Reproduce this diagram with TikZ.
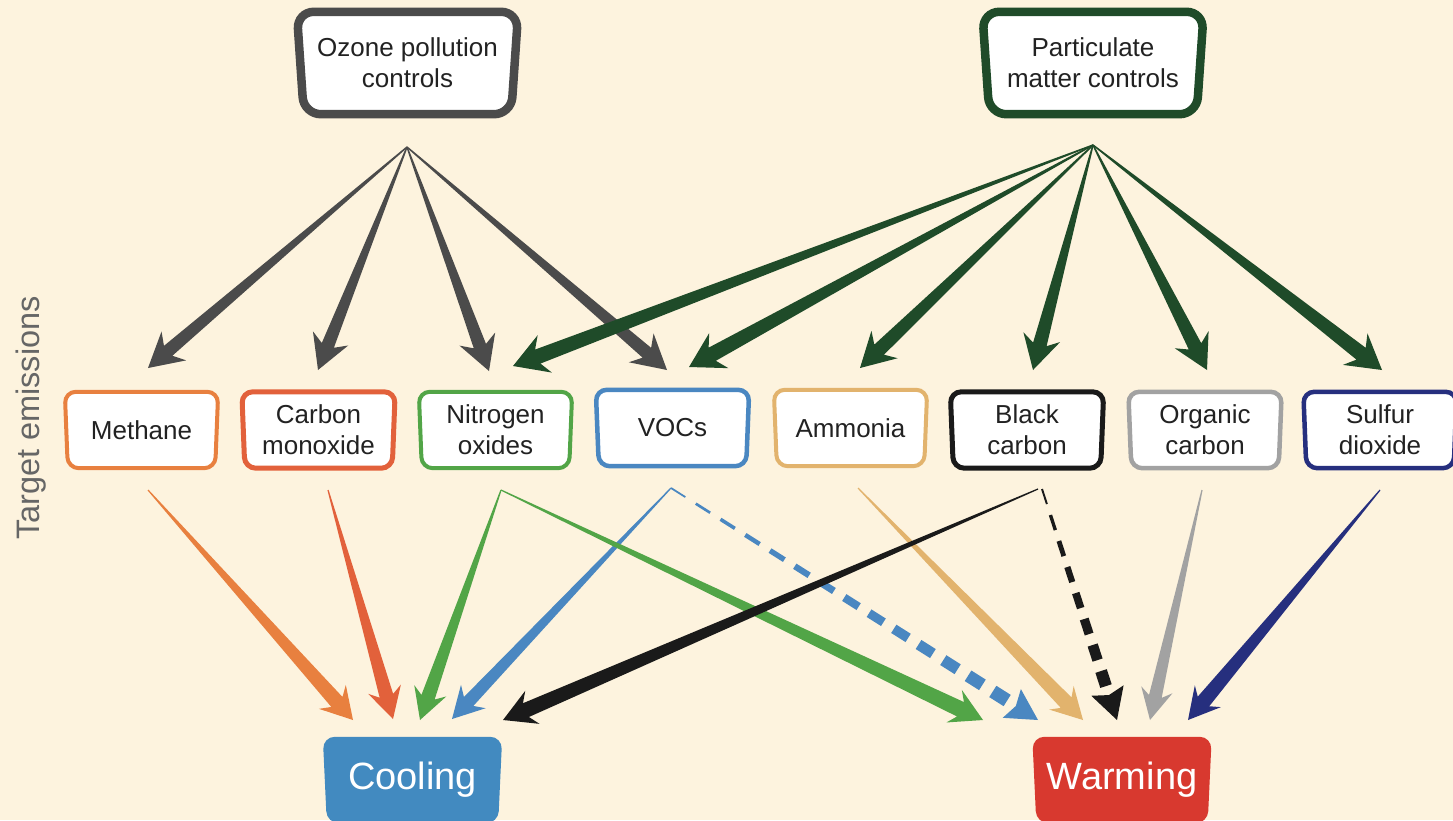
\documentclass[tikz,border=0pt]{standalone}
\usepackage{fontspec}
\setmainfont{Liberation Sans}
\usetikzlibrary{calc}
\definecolor{bgc}{HTML}{FDF3DE}
\definecolor{ozc}{HTML}{4B4B4B}
\definecolor{pmc}{HTML}{1F4B29}
\definecolor{methc}{HTML}{E8803F}
\definecolor{coc}{HTML}{E2613B}
\definecolor{noxc}{HTML}{52A547}
\definecolor{vocc}{HTML}{4A87C1}
\definecolor{nhc}{HTML}{E2B36D}
\definecolor{bcc}{HTML}{1A1A1A}
\definecolor{occ}{HTML}{A2A2A2}
\definecolor{soc}{HTML}{262F7E}
\definecolor{coolc}{HTML}{428AC0}
\definecolor{warmc}{HTML}{D8392F}
\definecolor{txtc}{HTML}{222222}
\definecolor{labc}{HTML}{666666}
\pgfdeclarelayer{back}
\pgfsetlayers{back,main}
\tikzset{
  emis/.style={inner sep=0pt, minimum width=153pt, minimum height=76pt, align=center,
    font=\fontsize{26}{31}\selectfont, text=txtc},
  ctrl/.style={inner sep=0pt, minimum width=221pt, minimum height=102pt, align=center,
    font=\fontsize{26}{31}\selectfont, text=txtc},
  effect/.style={inner sep=0pt, minimum width=179pt, minimum height=86pt,
    font=\fontsize{38}{44}\selectfont, text=white},
}
% frame: name, style, bottom inset, corner radius
\newcommand\tvframe[4]{%
  \path[#2, rounded corners=#4] (#1.north west) -- (#1.north east)
    -- ([xshift=-#3]#1.south east) -- ([xshift=#3]#1.south west) -- cycle;}
% tapered arrow: style, from, to, start half width, shaft half width, head half width, head length
\newcommand\taperarrow[7]{%
  \pgfmathsetlengthmacro\tajl{0.78*#7}%
  \coordinate (taJ) at ($(#3)!\tajl!(#2)$);
  \coordinate (taW) at ($(#3)!#7!(#2)$);
  \fill[#1] ($(#2)!#4!90:(#3)$) -- ($(taJ)!#5!90:(#3)$) -- ($(taW)!#6!90:(#3)$) -- (#3)
    -- ($(taW)!#6!-90:(#3)$) -- ($(taJ)!#5!-90:(#3)$) -- ($(#2)!#4!-90:(#3)$) -- cycle;}
% tapered dashed arrow: style, from, to, start width, end width, head half width, head length, dashes
\newcommand\taperdash[8]{%
  \pgfmathsetlengthmacro\tdjl{0.78*#7}%
  \coordinate (tdJ) at ($(#3)!\tdjl!(#2)$);
  \coordinate (tdW) at ($(#3)!#7!(#2)$);
  \foreach \i in {1,...,#8}{%
    \pgfmathsetmacro\tdta{(\i-1)/#8}%
    \pgfmathsetmacro\tdtb{(\i-0.42)/#8}%
    \pgfmathsetlengthmacro\tdlw{#4+(#5-#4)*(\i-0.7)/#8}%
    \draw[#1, line width=\tdlw, line cap=butt] ($(#2)!\tdta!(tdJ)$) -- ($(#2)!\tdtb!(tdJ)$);
  }
  \fill[#1] ($(tdW)!#6!90:(#3)$) -- (#3) -- ($(tdW)!#6!-90:(#3)$) -- ($(tdJ)!0.3!(tdW)$) -- cycle;}
\begin{document}
\begin{tikzpicture}[x=1pt,y=-1pt]
\clip (0,0) rectangle (1453,820);
% nodes
\node[ctrl] (oz) at (407.5,63) {Ozone pollution\\controls};
\node[ctrl] (pm) at (1093,63) {Particulate\\matter controls};
\node[emis] (meth) at (141.5,430) {Methane};
\node[emis] (co) at (318.5,430) {Carbon\\monoxide};
\node[emis] (nox) at (495.5,430) {Nitrogen\\oxides};
\node[emis] (voc) at (672.5,428) {VOCs};
\node[emis] (nh) at (850.5,428) {Ammonia};
\node[emis] (bc) at (1027,430) {Black\\carbon};
\node[emis] (oc) at (1205,430) {Organic\\carbon};
\node[emis] (so) at (1380,430) {Sulfur\\dioxide};
\node[effect] (cool) at (412.5,780) {Cooling};
\node[effect] (warm) at (1122,780) {Warming};
\node[rotate=90, font=\fontsize{32.5}{38}\selectfont, text=labc] (lab) at (31,418) {Target emissions};
% frames
\begin{pgfonlayer}{back}
  \fill[bgc] (0,0) rectangle (1453,820);
  \tvframe{oz}{draw=ozc, line width=8.5pt, fill=white}{7pt}{17pt}
  \tvframe{pm}{draw=pmc, line width=8.5pt, fill=white}{7pt}{17pt}
  \tvframe{meth}{draw=methc, line width=4pt, fill=white}{3pt}{11pt}
  \tvframe{co}{draw=coc, line width=5pt, fill=white}{3pt}{11pt}
  \tvframe{nox}{draw=noxc, line width=4pt, fill=white}{3pt}{11pt}
  \tvframe{voc}{draw=vocc, line width=4.5pt, fill=white}{3pt}{11pt}
  \tvframe{nh}{draw=nhc, line width=4pt, fill=white}{3pt}{11pt}
  \tvframe{bc}{draw=bcc, line width=5pt, fill=white}{3pt}{11pt}
  \tvframe{oc}{draw=occ, line width=4.5pt, fill=white}{3pt}{11pt}
  \tvframe{so}{draw=soc, line width=4.5pt, fill=white}{3pt}{11pt}
  \tvframe{cool}{fill=coolc}{4pt}{12pt}
  \tvframe{warm}{fill=warmc}{4pt}{12pt}
\end{pgfonlayer}
% connector end points
\coordinate (ozfan) at (407,147);
\coordinate (pmfan) at (1093,145);
\coordinate (oz1) at (148,368);
\coordinate (oz2) at (318,370);
\coordinate (oz3) at (489,371);
\coordinate (oz4) at (667,370);
\coordinate (pm1) at (513,366);
\coordinate (pm2) at (689,367);
\coordinate (pm3) at (860,368);
\coordinate (pm4) at (1033,370);
\coordinate (pm5) at (1207,370);
\coordinate (pm6) at (1382,370);
\coordinate (methout) at (148,490);
\coordinate (coout) at (328,490);
\coordinate (noxout) at (501,490);
\coordinate (vocout) at (671,488);
\coordinate (nhout) at (858,488);
\coordinate (bcout) at (1038,489);
\coordinate (bcout2) at (1042,489);
\coordinate (ocout) at (1202,490);
\coordinate (soout) at (1380,490);
\coordinate (c1) at (353,720);
\coordinate (c2) at (393,719);
\coordinate (c3) at (420,720);
\coordinate (c4) at (452,719);
\coordinate (c5) at (503,720);
\coordinate (w1) at (983,720);
\coordinate (w2) at (1038,720);
\coordinate (w3) at (1083,720);
\coordinate (w4) at (1117,720);
\coordinate (w5) at (1150,720);
\coordinate (w6) at (1188,720);
% top connectors
\taperarrow{ozc}{ozfan}{oz1}{0.7pt}{6.5pt}{19pt}{34pt}
\taperarrow{ozc}{ozfan}{oz2}{0.7pt}{6.5pt}{19pt}{34pt}
\taperarrow{ozc}{ozfan}{oz3}{0.7pt}{6.5pt}{19pt}{34pt}
\taperarrow{ozc}{ozfan}{oz4}{0.7pt}{6.5pt}{19pt}{34pt}
\taperarrow{pmc}{pmfan}{pm1}{0.7pt}{7.5pt}{20pt}{34pt}
\taperarrow{pmc}{pmfan}{pm2}{0.7pt}{7.5pt}{20pt}{34pt}
\taperarrow{pmc}{pmfan}{pm3}{0.7pt}{7pt}{19pt}{34pt}
\taperarrow{pmc}{pmfan}{pm4}{0.7pt}{7pt}{19pt}{34pt}
\taperarrow{pmc}{pmfan}{pm5}{0.7pt}{7pt}{19pt}{34pt}
\taperarrow{pmc}{pmfan}{pm6}{0.7pt}{7.5pt}{20pt}{34pt}
% bottom connectors
\taperarrow{methc}{methout}{c1}{0.6pt}{7.5pt}{18pt}{31pt}
\taperarrow{coc}{coout}{c2}{0.6pt}{7pt}{17pt}{31pt}
\taperarrow{noxc}{noxout}{c3}{0.6pt}{7pt}{17pt}{31pt}
\taperarrow{vocc}{vocout}{c4}{0.6pt}{6.5pt}{17pt}{31pt}
\taperarrow{noxc}{noxout}{w1}{0.6pt}{8pt}{18pt}{32pt}
\taperdash{vocc}{vocout}{w2}{1.5pt}{14pt}{17pt}{31pt}{14}
\taperarrow{nhc}{nhout}{w3}{0.6pt}{7.5pt}{17pt}{31pt}
\taperarrow{bcc}{bcout}{c5}{0.6pt}{7.5pt}{18pt}{32pt}
\taperdash{bcc}{bcout2}{w4}{1.5pt}{13pt}{17pt}{31pt}{8}
\taperarrow{occ}{ocout}{w5}{0.6pt}{6.5pt}{16pt}{31pt}
\taperarrow{soc}{soout}{w6}{0.6pt}{7.5pt}{17pt}{31pt}
\end{tikzpicture}
\end{document}
